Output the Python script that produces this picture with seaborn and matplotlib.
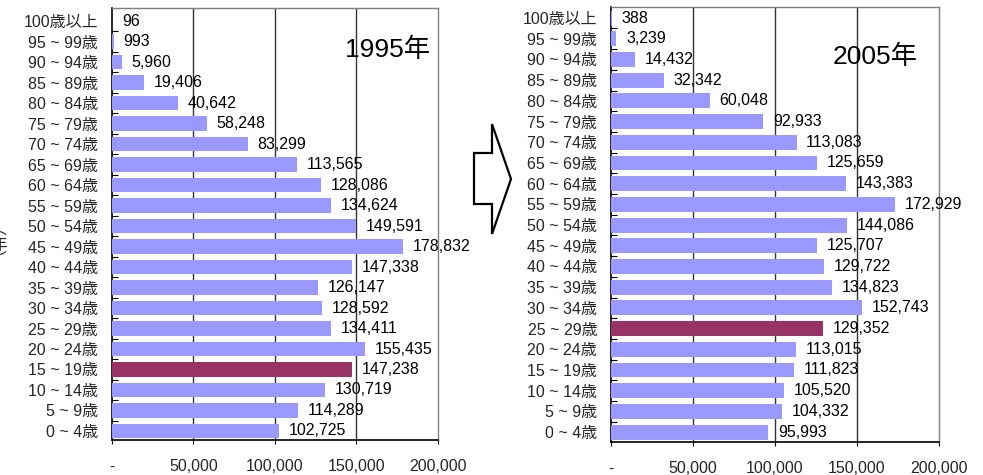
import matplotlib
matplotlib.use("Agg")
import matplotlib.pyplot as plt
from matplotlib.patches import Polygon
from matplotlib.ticker import FuncFormatter, FixedLocator
import seaborn as sns
import pandas as pd

sns.set_theme(style="white")
plt.rcParams["font.family"] = ["Liberation Sans", "Noto Sans CJK JP", "DejaVu Sans"]

# Age groups, oldest at the top
age_groups = [
    "100歳以上", "95 ~ 99歳", "90 ~ 94歳", "85 ~ 89歳", "80 ~ 84歳", "75 ~ 79歳",
    "70 ~ 74歳", "65 ~ 69歳", "60 ~ 64歳", "55 ~ 59歳", "50 ~ 54歳", "45 ~ 49歳",
    "40 ~ 44歳", "35 ~ 39歳", "30 ~ 34歳", "25 ~ 29歳", "20 ~ 24歳", "15 ~ 19歳",
    "10 ~ 14歳", "5 ~ 9歳", "0 ~ 4歳",
]

pop_1995 = [
    96, 993, 5960, 19406, 40642, 58248, 83299, 113565, 128086, 134624, 149591,
    178832, 147338, 126147, 128592, 134411, 155435, 147238, 130719, 114289, 102725,
]
pop_2005 = [
    388, 3239, 14432, 32342, 60048, 92933, 113083, 125659, 143383, 172929, 144086,
    125707, 129722, 134823, 152743, 129352, 113015, 111823, 105520, 104332, 95993,
]

# The same birth cohort, followed ten years on
cohort_1995 = "15 ~ 19歳"
cohort_2005 = "25 ~ 29歳"

x_ticks = [0, 50000, 100000, 150000, 200000]

BAR = "#9999FF"
HIGHLIGHT = "#993366"
FS = 11.5

fig = plt.figure(figsize=(9.83, 4.75), dpi=100)
ax1 = fig.add_axes([0.1139, 0.0737, 0.3316, 0.909])
ax2 = fig.add_axes([0.6216, 0.0695, 0.3337, 0.9155])


def draw_panel(ax, values, highlight, year_label, title_xy, ylim):
    df = pd.DataFrame({"age": age_groups, "pop": values})
    colors = {a: (HIGHLIGHT if a == highlight else BAR) for a in age_groups}
    sns.barplot(data=df, x="pop", y="age", hue="age", palette=colors,
                legend=False, width=0.72, ax=ax, saturation=1, linewidth=0,
                zorder=3)
    ax.set_xlim(0, 200000)
    ax.set_ylim(*ylim)
    ax.set_xlabel("")
    ax.set_ylabel("")

    # value labels just past each bar end
    for i, v in enumerate(values):
        ax.annotate(f"{v:,}", xy=(v, i), xytext=(7, 0), textcoords="offset points",
                    va="center", ha="left", fontsize=FS, color="black", zorder=5)

    # vertical gridlines
    ax.xaxis.set_major_locator(FixedLocator(x_ticks))
    ax.xaxis.set_major_formatter(FuncFormatter(lambda v, p: "-" if v == 0 else f"{int(v):,}"))
    for g in x_ticks[1:-1]:
        ax.axvline(g, color="#333333", lw=1.0, zorder=1)

    ax.tick_params(axis="x", which="major", direction="out", length=3, width=0.8,
                   color="black", pad=11, labelsize=FS, bottom=True)
    ax.tick_params(axis="y", which="major", length=0, pad=10, labelsize=FS)
    ax.yaxis.set_minor_locator(FixedLocator([i + 0.5 for i in range(len(age_groups) - 1)]))
    ax.tick_params(axis="y", which="minor", direction="in", length=4, width=0.8,
                   color="black", left=True)

    for s in ("left", "bottom"):
        ax.spines[s].set_color("black")
        ax.spines[s].set_linewidth(1.2)
    for s in ("top", "right"):
        ax.spines[s].set_color("#808080")
        ax.spines[s].set_linewidth(1.0)
    ax.set_facecolor("white")

    fig.text(title_xy[0], title_xy[1], year_label, fontsize=19,
             ha="center", va="center", color="black")


draw_panel(ax1, pop_1995, cohort_1995, "1995年", (388 / 983, 1 - 50 / 475), (20.44, -0.63))
draw_panel(ax2, pop_2005, cohort_2005, "2005年", (875 / 983, 1 - 57 / 475), (20.48, -0.53))

# outlined block arrow between the two panels (pixel coordinates)
arrow_px = [(474, 153), (492, 153), (492, 124), (511, 179),
            (492, 234), (492, 204), (474, 204)]
arrow = Polygon([(x / 983, 1 - y / 475) for x, y in arrow_px], closed=True,
                facecolor="white", edgecolor="black", lw=1.6,
                transform=fig.transFigure)
fig.patches.append(arrow)

# axis caption at the left edge
fig.text(-0.002, 1 - 245 / 475, "︵\n年\n︶", fontsize=12, ha="center", va="center",
         linespacing=0.9, family=["Noto Sans CJK JP", "DejaVu Sans"])

fig.savefig("out.png", dpi=100, facecolor="white")
